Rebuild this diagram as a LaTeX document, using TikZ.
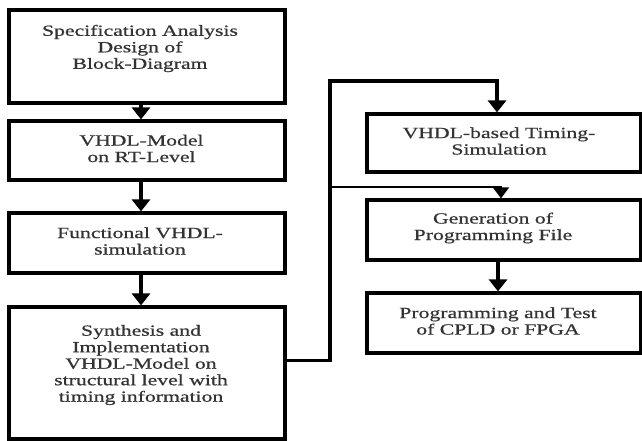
\documentclass[tikz,border=0pt]{standalone}
\usepackage{fontspec}
\setmainfont{Liberation Serif}[FakeStretch=1.4,FakeBold=0.7]
\usetikzlibrary{arrows.meta}
\begin{document}
\begin{tikzpicture}[x=1pt,y=-1pt,
  box/.style={draw=black,line width=3.2pt,rectangle,inner sep=0pt,minimum width=276pt},
  rbox/.style={draw=black,line width=3.2pt,rectangle,inner sep=0pt,minimum width=274pt},
  lbl/.style={align=center,inner sep=0pt,text=black!80,font=\fontsize{15.5}{16.5}\selectfont},
  conn/.style={line width=3.5pt,-{Triangle[width=18pt,length=12pt]}},
  conn2/.style={line width=2pt,-{Triangle[width=16pt,length=11pt]}}]
\useasboundingbox (0,0) rectangle (642,441);
% left column
\node[box,minimum height=93pt] (b1) at (147,56.5) {};
\node[box,minimum height=59pt] (b2) at (147,150.5) {};
\node[box,minimum height=60pt] (b3) at (147,243) {};
\node[box,minimum height=132pt] (b4) at (147,373) {};
\node[lbl] (t1) at (140,48.5) {Specification Analysis\\Design of\\Block-Diagram};
\node[lbl] (t2) at (141.5,148.5) {VHDL-Model\\on RT-Level};
\node[lbl] (t3) at (140,241) {Functional VHDL-\\simulation};
\node[lbl] (t4) at (141,365) {Synthesis and\\Implementation\\VHDL-Model on\\structural level with\\timing information};
% right column
\node[rbox,minimum height=58pt] (b5) at (504,143) {};
\node[rbox,minimum height=60pt] (b6) at (504,230) {};
\node[rbox,minimum height=60pt] (b7) at (504,323) {};
\node[lbl] (t5) at (499,141) {VHDL-based Timing-\\Simulation};
\node[lbl] (t6) at (493,228) {Generation of\\Programming File};
\node[lbl] (t7) at (498,321) {Programming and Test\\of CPLD or FPGA};
% connectors
\draw[conn] ([xshift=-6pt]b1.south) -- ([xshift=-6pt]b2.north);
\draw[conn] ([xshift=-6pt]b2.south) -- ([xshift=-6pt]b3.north);
\draw[conn] ([xshift=-6pt]b3.south) -- ([xshift=-6pt]b4.north);
\draw[conn] ([xshift=-6pt]b6.south) -- ([xshift=-6pt]b7.north);
\coordinate (j1) at (330,360.5);
\coordinate (j2) at (330,81);
\coordinate (j3) at (330,186.5);
\draw[conn] (b4.east |- j1) -- (j1) -- (j2) -| ([xshift=-7pt]b5.north);
\draw[conn2] (j3) -| ([xshift=-3pt]b6.north);
\end{tikzpicture}
\end{document}
